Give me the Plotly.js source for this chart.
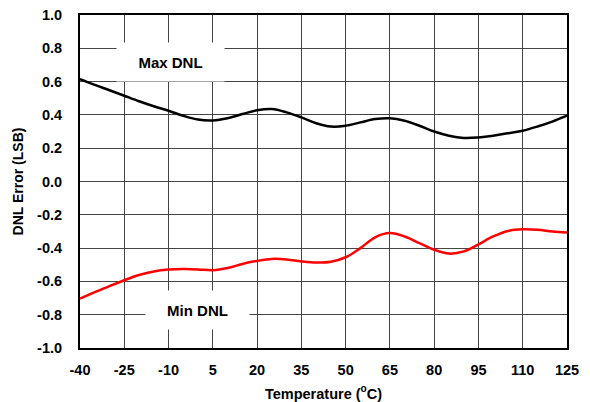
<!DOCTYPE html>
<html>
<head>
<meta charset="utf-8">
<script src="https://cdn.plot.ly/plotly-3.0.1.min.js"></script>
<style>html,body{margin:0;padding:0;background:#fff}#chart{width:590px;height:402px}</style>
</head>
<body>
<div id="chart"></div>
<script>
var temperature = [-40,-35,-30,-25,-20,-15,-10,-5,0,5,10,15,20,25,30,35,40,45,50,55,60,65,70,75,80,85,90,95,100,105,110,115,120,125];
var maxDNL = [0.615,0.58,0.548,0.515,0.482,0.452,0.425,0.395,0.372,0.367,0.38,0.405,0.428,0.435,0.415,0.385,0.35,0.33,0.335,0.355,0.375,0.38,0.365,0.335,0.30,0.275,0.262,0.265,0.275,0.29,0.305,0.33,0.36,0.395];
var minDNL = [-0.703,-0.665,-0.628,-0.593,-0.562,-0.54,-0.529,-0.526,-0.528,-0.533,-0.52,-0.495,-0.477,-0.465,-0.468,-0.48,-0.487,-0.482,-0.455,-0.40,-0.335,-0.31,-0.33,-0.37,-0.41,-0.433,-0.42,-0.377,-0.33,-0.297,-0.287,-0.29,-0.30,-0.307];
var xTickVals = [-40,-25,-10,5,20,35,50,65,80,95,110,125];
var xTickText = ["-40","-25","-10","5","20","35","50","65","80","95","110","125"];
var yTickVals = [-1,-0.8,-0.6,-0.4,-0.2,0,0.2,0.4,0.6,0.8,1];
var yTickText = ["-1.0","-0.8","-0.6","-0.4","-0.2","0.0","0.2","0.4","0.6","0.8","1.0"];
var seriesNames = ["Max DNL","Min DNL"];

function bold(arr) { return arr.map(function (s) { return "<b>" + s + "</b>"; }); }
var fam = "Liberation Sans, Arial, sans-serif";
var font = {family: fam, size: 14, color: "#000"};
var traces = [
  {x: temperature, y: maxDNL, mode: "lines", name: seriesNames[0], line: {color: "#000", width: 2.5, shape: "spline", smoothing: 1}},
  {x: temperature, y: minDNL, mode: "lines", name: seriesNames[1], line: {color: "#ff0000", width: 2.5, shape: "spline", smoothing: 1}}
];
var layout = {
  width: 590, height: 402,
  margin: {l: 80, r: 23, t: 15, b: 54},
  paper_bgcolor: "#fff", plot_bgcolor: "#fff",
  showlegend: false,
  font: font,
  xaxis: {
    range: [-40, 125], tickvals: xTickVals, ticktext: bold(xTickText),
    showgrid: true, gridcolor: "#444", gridwidth: 1, zeroline: false,
    showline: true, linecolor: "#000", linewidth: 2, mirror: true,
    ticks: "", ticklabelstandoff: 8,
    tickfont: {family: fam, size: 14.5, color: "#000"},
    title: {text: "<b>Temperature (<sup>o</sup>C)</b>", font: {family: fam, size: 14.5, color: "#000"}, standoff: 11}
  },
  yaxis: {
    range: [-1, 1], tickvals: yTickVals, ticktext: bold(yTickText),
    showgrid: true, gridcolor: "#444", gridwidth: 1, zeroline: false,
    showline: true, linecolor: "#000", linewidth: 2, mirror: true,
    ticks: "", ticklabelstandoff: 13,
    tickfont: {family: fam, size: 14.5, color: "#000"},
    title: {text: "<b>DNL Error (LSB)</b>", font: {family: fam, size: 14, color: "#000"}, standoff: 10}
  },
  annotations: [
    {x: -9.4, y: 0.718, xref: "x", yref: "y", text: "<b>" + seriesNames[0] + "</b>", showarrow: false,
     bgcolor: "#fff", width: 107, height: 38, borderpad: 0, font: {family: fam, size: 15, color: "#000"}},
    {x: -0.3, y: -0.772, xref: "x", yref: "y", text: "<b>" + seriesNames[1] + "</b>", showarrow: false,
     bgcolor: "#fff", width: 103, height: 38, borderpad: 0, font: {family: fam, size: 15, color: "#000"}}
  ]
};
Plotly.newPlot("chart", traces, layout, {staticPlot: true, displayModeBar: false});
</script>
</body>
</html>
